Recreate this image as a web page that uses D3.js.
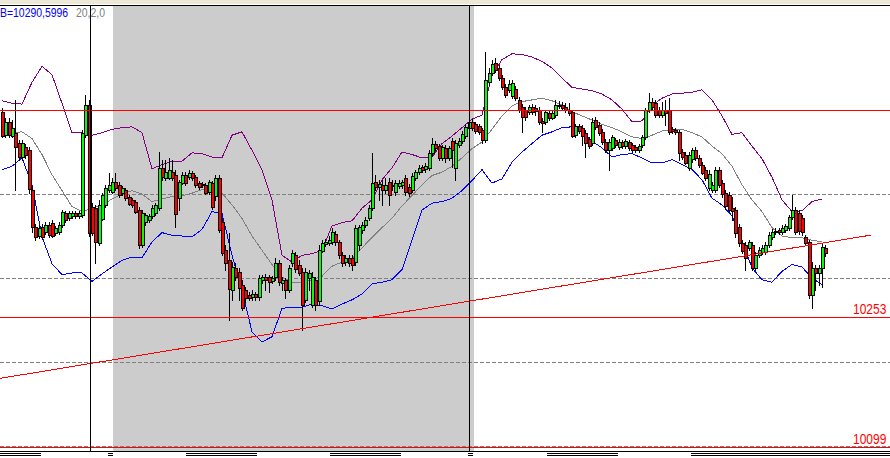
<!DOCTYPE html>
<html><head><meta charset="utf-8">
<script src="https://cdn.jsdelivr.net/npm/d3@7"></script>
<style>html,body{margin:0;padding:0;background:#fff;overflow:hidden}svg{display:block}</style>
</head><body><svg id="chart" width="890" height="458"></svg>
<script>
// ---------------- data ----------------
const open = [10498,10470,10486,10470,10473,10461,10444,10456,10452,10405,
10361,10351,10361,10355,10363,10366,10354,10355,10363,10377,
10371,10374,10377,10374,10375,10470,10506,10385,10383,10342,
10371,10387,10405,10402,10414,10411,10401,10405,10397,10393,
10391,10381,10339,10367,10369,10373,10377,10383,10431,10419,
10420,10426,10423,10395,10414,10423,10420,10425,10420,10413,
10412,10411,10402,10413,10397,10419,10367,10333,10321,10286,
10312,10307,10292,10286,10280,10277,10281,10277,10298,10301,
10301,10296,10301,10318,10294,10298,10286,10318,10327,10316,
10307,10274,10300,10268,10298,10272,10333,10341,10342,10343,
10352,10343,10327,10319,10324,10324,10319,10339,10357,10363,
10371,10383,10414,10408,10411,10405,10414,10410,10402,10410,
10411,10419,10408,10405,10419,10426,10432,10429,10431,10449,
10460,10457,10443,10455,10443,10463,10431,10458,10463,10469,
10479,10486,10483,10481,10476,10464,10533,10544,10556,10550,
10538,10527,10524,10517,10525,10512,10504,10500,10498,10504,
10502,10500,10487,10486,10496,10490,10494,10506,10506,10504,
10500,10498,10470,10481,10479,10473,10466,10461,10488,10482,
10474,10462,10452,10455,10464,10456,10462,10457,10462,10458,
10456,10452,10458,10468,10500,10510,10508,10500,10494,10500,
10500,10477,10476,10474,10450,10447,10432,10441,10452,10443,
10435,10429,10407,10405,10405,10429,10413,10401,10399,10383,
10381,10361,10342,10339,10336,10339,10312,10327,10331,10331,
10339,10349,10355,10357,10355,10357,10360,10373,10381,10377,
10371,10349,10343,10280,10312,10306,10312,10336];
const high = [10502,10490,10490,10488,10512,10464,10464,10460,10456,10408,
10364,10363,10364,10367,10367,10369,10362,10367,10381,10380,
10380,10380,10380,10380,10476,10518,10512,10389,10387,10393,
10401,10411,10425,10419,10425,10414,10410,10407,10399,10395,
10393,10385,10381,10377,10376,10387,10389,10450,10441,10441,
10443,10441,10429,10417,10426,10426,10429,10427,10423,10416,
10414,10413,10417,10416,10423,10423,10371,10339,10354,10319,
10318,10312,10298,10289,10283,10286,10283,10304,10304,10305,
10304,10302,10324,10321,10301,10300,10316,10333,10331,10321,
10312,10312,10310,10307,10301,10339,10345,10346,10350,10360,
10356,10345,10331,10327,10327,10327,10363,10363,10367,10373,
10387,10449,10423,10417,10417,10419,10419,10417,10417,10417,
10417,10423,10412,10425,10429,10435,10435,10437,10452,10467,
10463,10460,10458,10458,10457,10467,10464,10467,10475,10483,
10488,10489,10486,10483,10479,10569,10550,10560,10562,10554,
10542,10531,10536,10536,10529,10516,10507,10504,10506,10507,
10506,10504,10490,10500,10500,10499,10512,10511,10510,10508,
10508,10500,10483,10483,10482,10476,10468,10490,10492,10486,
10477,10466,10466,10470,10467,10466,10464,10466,10464,10461,
10458,10460,10470,10502,10520,10514,10512,10504,10510,10512,
10514,10480,10479,10476,10454,10450,10450,10455,10456,10447,
10438,10432,10429,10414,10432,10432,10417,10405,10402,10397,
10385,10364,10345,10343,10345,10343,10331,10337,10339,10343,
10355,10358,10360,10360,10363,10364,10375,10399,10385,10381,
10375,10351,10345,10319,10316,10316,10342,10339];
const low = [10468,10468,10468,10468,10405,10441,10441,10443,10401,10355,
10345,10348,10346,10352,10349,10349,10351,10352,10361,10367,
10369,10371,10371,10371,10373,10468,10350,10351,10318,10339,
10369,10385,10402,10401,10405,10397,10399,10393,10387,10385,
10377,10336,10337,10363,10367,10371,10375,10381,10417,10417,
10418,10417,10361,10381,10412,10411,10418,10417,10408,10406,
10408,10400,10400,10382,10393,10355,10327,10310,10250,10274,
10298,10274,10262,10272,10274,10274,10274,10274,10294,10286,
10283,10294,10298,10292,10286,10276,10283,10314,10307,10304,
10238,10272,10286,10265,10262,10268,10331,10338,10339,10341,
10339,10324,10314,10316,10314,10310,10316,10333,10354,10361,
10369,10381,10405,10393,10387,10401,10387,10405,10399,10407,
10407,10399,10398,10402,10417,10424,10426,10426,10429,10445,
10452,10441,10441,10438,10441,10432,10417,10456,10461,10467,
10476,10476,10473,10471,10461,10462,10530,10542,10545,10536,
10525,10516,10521,10514,10512,10498,10474,10488,10495,10495,
10494,10483,10474,10483,10488,10489,10492,10502,10500,10498,
10494,10468,10468,10473,10458,10444,10455,10458,10477,10470,
10460,10450,10429,10452,10456,10454,10455,10455,10452,10450,
10450,10450,10456,10466,10498,10501,10492,10492,10492,10482,
10471,10473,10471,10441,10442,10436,10429,10438,10441,10432,
10424,10417,10405,10402,10402,10408,10397,10382,10379,10369,
10349,10338,10330,10310,10333,10310,10310,10325,10329,10329,
10337,10346,10352,10352,10352,10355,10357,10370,10352,10352,
10351,10339,10276,10264,10286,10292,10289,10326];
const close = [10470,10486,10470,10479,10456,10444,10461,10447,10405,10361,
10349,10360,10349,10363,10351,10351,10360,10363,10379,10369,
10377,10377,10374,10377,10473,10506,10354,10354,10342,10387,
10399,10407,10411,10414,10407,10399,10407,10395,10389,10387,
10379,10339,10377,10375,10374,10383,10387,10431,10420,10426,
10429,10419,10377,10414,10423,10413,10425,10419,10411,10408,
10411,10402,10414,10385,10419,10357,10330,10318,10286,10313,
10301,10288,10265,10276,10277,10281,10277,10300,10301,10298,
10295,10300,10318,10295,10298,10286,10312,10330,10310,10307,
10268,10307,10306,10301,10268,10333,10342,10343,10345,10355,
10343,10327,10318,10324,10318,10316,10360,10361,10363,10369,
10383,10413,10408,10412,10405,10411,10399,10411,10413,10413,
10414,10402,10401,10422,10426,10431,10429,10433,10449,10460,
10455,10443,10456,10443,10455,10452,10461,10463,10471,10480,
10486,10479,10475,10474,10464,10536,10544,10555,10548,10538,
10527,10518,10531,10532,10514,10500,10492,10492,10504,10498,
10498,10486,10485,10498,10490,10496,10506,10505,10502,10500,
10496,10470,10481,10475,10470,10461,10458,10486,10480,10473,
10462,10452,10462,10468,10458,10462,10457,10463,10455,10452,
10452,10457,10468,10500,10510,10504,10494,10494,10500,10496,
10474,10475,10474,10449,10444,10438,10447,10452,10443,10435,
10426,10420,10424,10411,10429,10411,10400,10385,10381,10379,
10354,10342,10333,10324,10343,10312,10327,10333,10336,10339,
10351,10355,10356,10355,10360,10362,10373,10381,10355,10355,
10354,10342,10280,10312,10306,10312,10337,10330];

// Bollinger (20,2,0), one reading every 3rd bar
const bbStep = 3;
const bbUpper = [10511,10508,10507,10533,10552,10542,10508,10473,10473,10470,
10473,10477,10479,10480,10473,10430,10435,10439,10439,10449,
10448,10444,10443,10470,10474,10452,10429,10393,10327,10319,
10327,10329,10333,10362,10366,10368,10383,10393,10417,10431,
10450,10447,10443,10444,10460,10469,10479,10489,10494,10541,
10560,10567,10566,10563,10558,10550,10538,10527,10525,10523,
10519,10512,10501,10486,10487,10505,10514,10519,10520,10521,
10524,10512,10493,10471,10473,10457,10442,10420,10393,10379,
10380,10391,10394];
const bbMiddle = [10470,10473,10474,10466,10447,10423,10404,10385,10379,10383,
10387,10394,10400,10404,10400,10391,10394,10397,10398,10401,
10405,10410,10401,10387,10371,10350,10333,10316,10301,10295,
10295,10298,10302,10314,10319,10323,10336,10348,10360,10371,
10386,10398,10411,10422,10426,10433,10443,10454,10462,10477,
10493,10505,10510,10512,10514,10511,10506,10498,10493,10488,
10483,10479,10474,10468,10466,10470,10475,10477,10477,10473,
10468,10457,10448,10433,10411,10393,10379,10360,10350,10348,
10348,10345,10343];
const bbLower = [10429,10433,10443,10411,10349,10317,10304,10306,10306,10296,
10305,10313,10321,10325,10324,10343,10354,10351,10350,10349,
10358,10379,10377,10327,10286,10236,10224,10230,10264,10265,
10265,10269,10267,10263,10269,10274,10281,10293,10295,10298,
10310,10345,10381,10389,10391,10395,10404,10416,10429,10413,
10418,10438,10450,10460,10470,10474,10479,10480,10474,10463,
10455,10444,10447,10448,10443,10437,10437,10441,10435,10429,
10417,10395,10387,10374,10345,10312,10298,10295,10308,10316,
10313,10300,10292];

const gridPrices = [10100, 10200, 10300, 10400, 10500];
const levelPrices = [10500, 10253, 10099];
const levelLabels = ["", "10253", "10099"];
const trendLine = [{i: -0.6, p: 10180.5}, {i: 260.6, p: 10351}];
const separatorBars = [26.4, 140.1];
const shadeBars = [33.3, 141.5];
const headerText = "B=10290,5996";
const paramText = "20,2,0";

// ---------------- drawing ----------------
const W = 890, H = 458, TOP = 5, BOTTOM = 451;
const svg = d3.select("#chart");
const x = d3.scaleLinear().domain([0, open.length - 1]).range([2, 2 + (open.length - 1) * 10 / 3]);
const y = d3.scaleLinear().domain([10100, 10500]).range([446, 110]);
const px = v => Math.round(v) + 0.5;

svg.append("rect").attr("width", W).attr("height", H).attr("fill", "#ffffff");
svg.append("rect").attr("width", W).attr("height", 4).attr("fill", "#ece9d8");

const sx0 = Math.round(x(shadeBars[0])), sx1 = Math.round(x(shadeBars[1]));
svg.append("rect").attr("x", sx0).attr("y", TOP + 1).attr("width", sx1 - sx0)
  .attr("height", BOTTOM - TOP - 1).attr("fill", "#cccccc");

svg.append("g").selectAll("line").data(gridPrices).join("line")
  .attr("x1", 0).attr("x2", W)
  .attr("y1", d => px(y(d))).attr("y2", d => px(y(d)))
  .attr("stroke", "#808080").attr("stroke-dasharray", "4,2")
  .attr("shape-rendering", "crispEdges");

const bandLine = d3.line().x((d, k) => x(k * bbStep)).y(d => y(d));
[[bbUpper, "#800080"], [bbMiddle, "#808080"], [bbLower, "#0000ff"]].forEach(([arr, col]) => {
  svg.append("path").attr("d", bandLine(arr)).attr("fill", "none")
    .attr("stroke", col).attr("stroke-width", 1).attr("shape-rendering", "crispEdges");
});

const idx = d3.range(open.length);
const cg = svg.append("g").attr("shape-rendering", "crispEdges");
cg.selectAll("line").data(idx).join("line")
  .attr("x1", i => px(x(i))).attr("x2", i => px(x(i)))
  .attr("y1", i => Math.round(y(high[i]))).attr("y2", i => Math.round(y(low[i])) + 1)
  .attr("stroke", "#000").attr("stroke-width", 1);
cg.selectAll("rect").data(idx).join("rect")
  .attr("x", i => px(x(i)) - 1).attr("width", 3)
  .attr("y", i => Math.round(y(Math.max(open[i], close[i]))) + 0.5)
  .attr("height", i => Math.max(1, Math.round(Math.abs(y(open[i]) - y(close[i])))))
  .attr("fill", i => close[i] >= open[i] ? "#00ff00" : "#ff0000")
  .attr("stroke", "#000").attr("stroke-width", 1);

// objects on top
const og = svg.append("g").attr("shape-rendering", "crispEdges");
og.selectAll(".lvl").data(levelPrices).join("line").attr("class", "lvl")
  .attr("x1", 0).attr("x2", W)
  .attr("y1", d => px(y(d))).attr("y2", d => px(y(d)))
  .attr("stroke", "#ff0000").attr("stroke-width", 1);
og.append("line")
  .attr("x1", x(trendLine[0].i)).attr("y1", y(trendLine[0].p))
  .attr("x2", x(trendLine[1].i)).attr("y2", y(trendLine[1].p))
  .attr("stroke", "#ff0000").attr("stroke-width", 1);
og.selectAll(".sep").data(separatorBars).join("line").attr("class", "sep")
  .attr("x1", d => px(x(d))).attr("x2", d => px(x(d)))
  .attr("y1", TOP).attr("y2", BOTTOM + 1)
  .attr("stroke", "#000").attr("stroke-width", 1);

og.append("line").attr("x1", 0).attr("x2", W).attr("y1", TOP + 0.5).attr("y2", TOP + 0.5).attr("stroke", "#000");
og.append("line").attr("x1", 0).attr("x2", W).attr("y1", BOTTOM + 0.5).attr("y2", BOTTOM + 0.5).attr("stroke", "#000");

// clipped time-scale label tops
const markSpans = [[0, 41], [108, 113], [186, 257], [330, 401], [468, 473], [547, 618], [691, 890]];
markSpans.forEach(([a, b]) => {
  [453.5, 455.5].forEach(yy => og.append("line").attr("x1", a).attr("x2", b)
    .attr("y1", yy).attr("y2", yy).attr("stroke", "#000"));
});

// price labels (narrow face emulated by horizontal scaling)
svg.selectAll(".plab").data(levelPrices.map((p, k) => ({p, t: levelLabels[k]})).filter(d => d.t))
  .join("text").attr("class", "plab")
  .attr("transform", d => `translate(853,${Math.round(y(d.p)) - 3}) scale(0.8,1)`)
  .attr("font-family", "Liberation Sans, Arial, sans-serif").attr("font-size", 15)
  .attr("fill", "#ff0000").text(d => d.t);

svg.append("text").attr("transform", "translate(0,17) scale(0.87,1)")
  .attr("font-family", "Liberation Sans, Arial, sans-serif").attr("font-size", 12)
  .attr("fill", "#0000ff").text(headerText);
svg.append("text").attr("transform", "translate(76,17) scale(0.87,1)")
  .attr("font-family", "Liberation Sans, Arial, sans-serif").attr("font-size", 12)
  .attr("fill", "#808080").text(paramText);
</script>
</body></html>
